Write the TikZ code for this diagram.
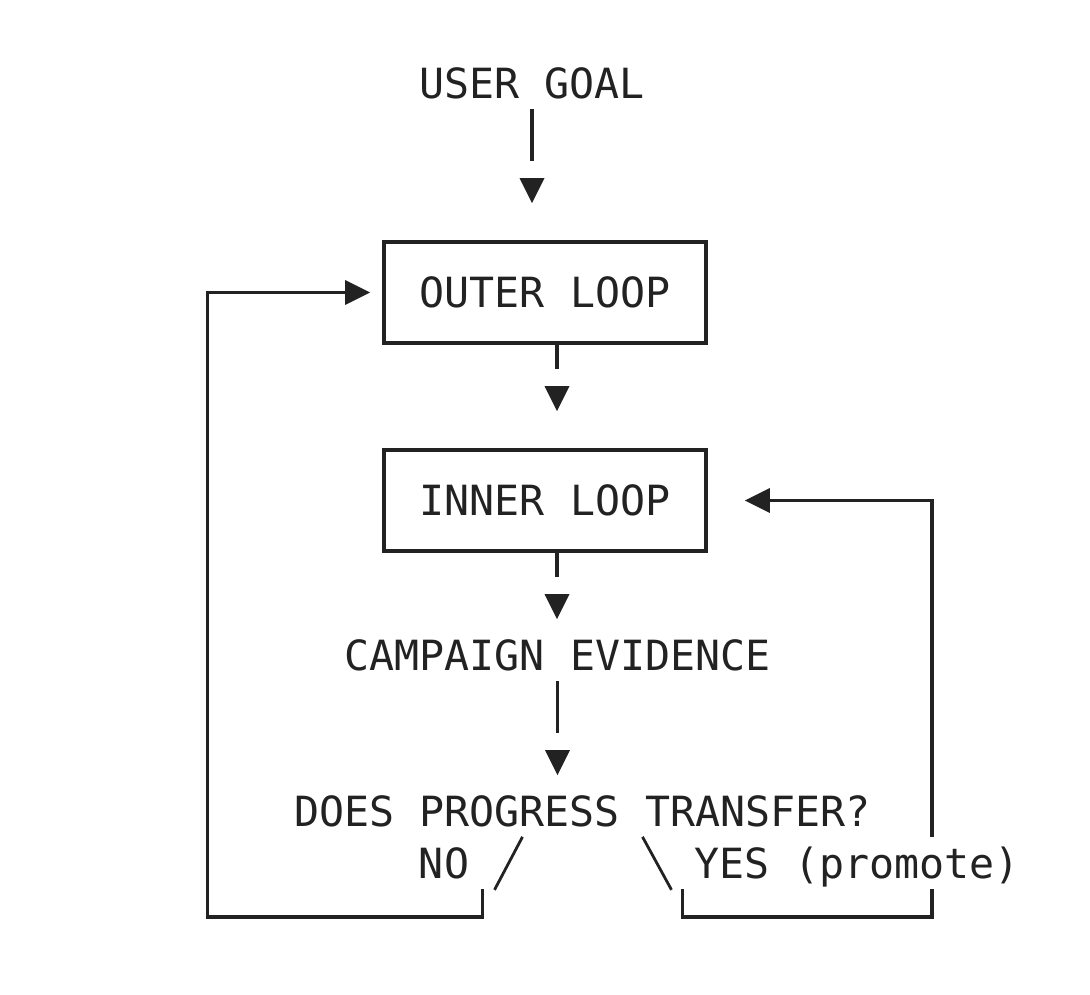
\documentclass[tikz,border=0pt]{standalone}
\usepackage{fontspec}
\setmonofont{DejaVu Sans Mono}
\usepackage{tikz}
\usetikzlibrary{calc,decorations.markings}
\definecolor{ink}{HTML}{222222}
\tikzstyle{txt} = [font=\ttfamily\fontsize{41.6}{50}\selectfont, text=ink, text height=30.3pt, text depth=0pt, inner xsep=2pt, inner ysep=10.5pt]
\tikzstyle{block} = [txt, rectangle, draw=ink, line width=3.6pt, minimum width=322pt, minimum height=101pt, inner sep=0pt]
\tikzstyle{branch} = [draw=ink, line width=2.8pt]
\tikzset{flow/.style 2 args={draw=ink, line width=3.4pt, shorten >=#1+#2+25pt,
    postaction={decorate, decoration={markings, mark=at position 1 with
      {\fill[ink, shorten >=0pt] (-#1,0pt) -- (-#1-25pt,12.5pt) -- (-#1-25pt,-12.5pt) -- cycle;}}}}}

\begin{document}
\begin{tikzpicture}[x=1pt, y=-1pt]
        \useasboundingbox (0,0) rectangle (1090,994);
        \node (goal) [txt] at (532,83) {USER GOAL};
        \node (outer) [block] at (545,292.5) {OUTER LOOP};
        \node (inner) [block] at (545,500.5) {INNER LOOP};
        \node (evidence) [txt] at (557.5,655) {CAMPAIGN EVIDENCE};
        \node (transfer) [txt] at (582.5,811) {DOES PROGRESS TRANSFER?};
        \node (no) [txt] at (444,863) {NO};
        \coordinate (nofoot) at ($(transfer.south)+(-100,52)$);
        \coordinate (yesfoot) at ($(transfer.south)+(100,52)$);
        \draw [flow={37pt}{17pt}] (goal.south) -- (goal.south |- outer.north);
        \draw [flow={37pt}{17pt}] ([xshift=12pt]outer.south) -- ([xshift=12pt]inner.north);
        \draw [flow={10pt}{17pt}] ([xshift=12pt]inner.south) -- ([xshift=12pt]inner.south |- evidence.north);
        \draw [flow={10pt}{17pt}] (evidence.south) -- (evidence.south |- transfer.north);
        \draw [branch] ($(transfer.south)+(-60,0)$) -- ++(-28,53);
        \draw [branch] ($(transfer.south)+(60,0)$) -- ++(29,53);
        \draw [flow={12pt}{0pt}] (nofoot) -- ++(0,28) -| ([xshift=-175pt]outer.west) -- (outer.west);
        \draw [flow={37pt}{0pt}] (yesfoot) -- ++(0,28) -| ([xshift=224pt]inner.east) -- (inner.east);
        \node (yes) [txt, fill=white] at (857,863) {YES (promote)};
\end{tikzpicture}
\end{document}
